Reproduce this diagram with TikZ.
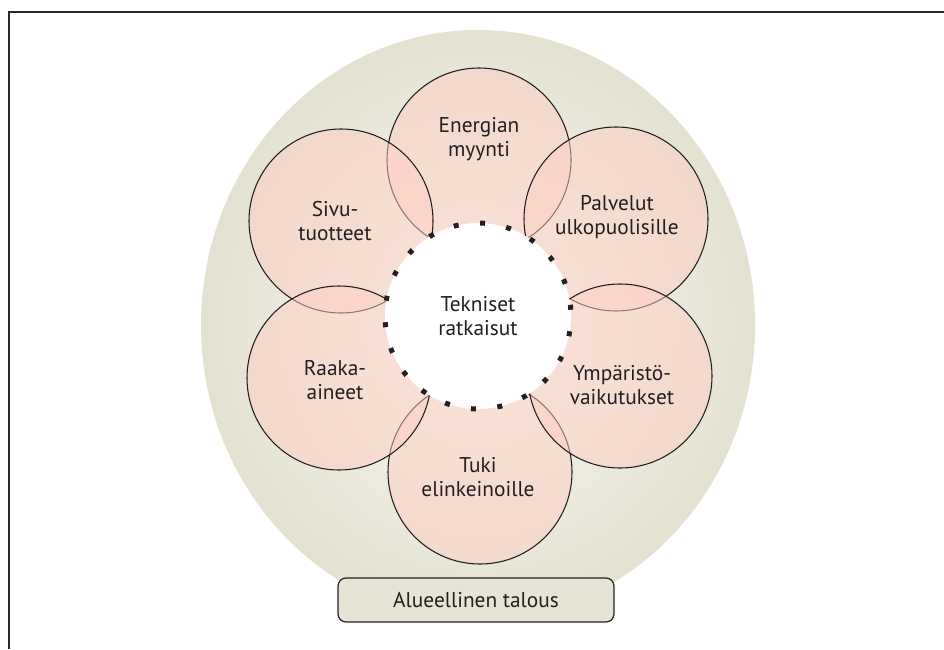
\documentclass[tikz,border=0pt]{standalone}
\usepackage{fontspec}
\setmainfont{PT Sans}
\usetikzlibrary{positioning}
\definecolor{framegray}{RGB}{40,40,40}
\definecolor{inkgray}{RGB}{35,31,32}
\definecolor{ovalin}{RGB}{250,250,246}
\definecolor{ovalout}{RGB}{228,226,209}
\definecolor{petalpink}{RGB}{255,206,194}
\definecolor{boxbeige}{RGB}{230,228,212}

\tikzset{
  petal/.style={circle,draw=inkgray,line width=0.8pt,fill=petalpink,
    fill opacity=0.5,minimum size=138pt,inner sep=0pt},
  petaltext/.style={align=center,text=inkgray,inner sep=0pt,
    font=\fontsize{16}{18.5}\selectfont},
  core/.style={circle,fill=white,minimum size=139.5pt,inner sep=0pt,
    align=center,text=inkgray,font=\fontsize{16}{18.5}\selectfont},
  coredots/.style={inkgray,line width=3.75pt,dash pattern=on 3.75pt off 16.17pt,
    dash phase=8.4pt},
  regionbox/.style={rectangle,rounded corners=6pt,draw=inkgray,line width=0.9pt,
    fill=boxbeige,minimum width=207pt,minimum height=33pt,text=inkgray,
    font=\fontsize{16}{18.5}\selectfont},
}

\begin{document}
\begin{tikzpicture}[x=0.75pt,y=-0.75pt]
\useasboundingbox (0,0) rectangle (944,649);
% Frame
\draw[framegray,line width=1.8pt] (9,649) -- (9,12) -- (944,12);
% Regional economy oval
\shade[inner color=ovalin,outer color=ovalout] (478,325) ellipse [x radius=277,y radius=295];
\node[regionbox] (talous) at (476,600) {Alueellinen talous};
% Petals, in stacking order
\node[petal] (energia) at (479,160) {};
\node[petal] (tuki) at (480,472) {};
\node[petal] (palvelut) at (616,219) {};
\node[petal] (sivu) at (341,221) {};
\node[petal] (ymparisto) at (620,376) {};
\node[petal] (raaka) at (339,378) {};
% Core
\node[core] (tekniset) at (478,316) {Tekniset\\ratkaisut};
\draw[coredots] (tekniset.center) circle (93);
% Petal labels
\node[petaltext] (energiat) at (479,139) {Energian\\myynti};
\node[petaltext] (palvelutt) at (617,217) {Palvelut\\ulkopuolisille};
\node[petaltext] (ymparistot) at (622,385) {Ympäristö-\\vaikutukset};
\node[petaltext] (tukit) at (478,477) {Tuki\\elinkeinoille};
\node[petaltext] (raakat) at (335,380) {Raaka-\\aineet};
\node[petaltext] (sivut) at (335,221) {Sivu-\\tuotteet};
\end{tikzpicture}
\end{document}
